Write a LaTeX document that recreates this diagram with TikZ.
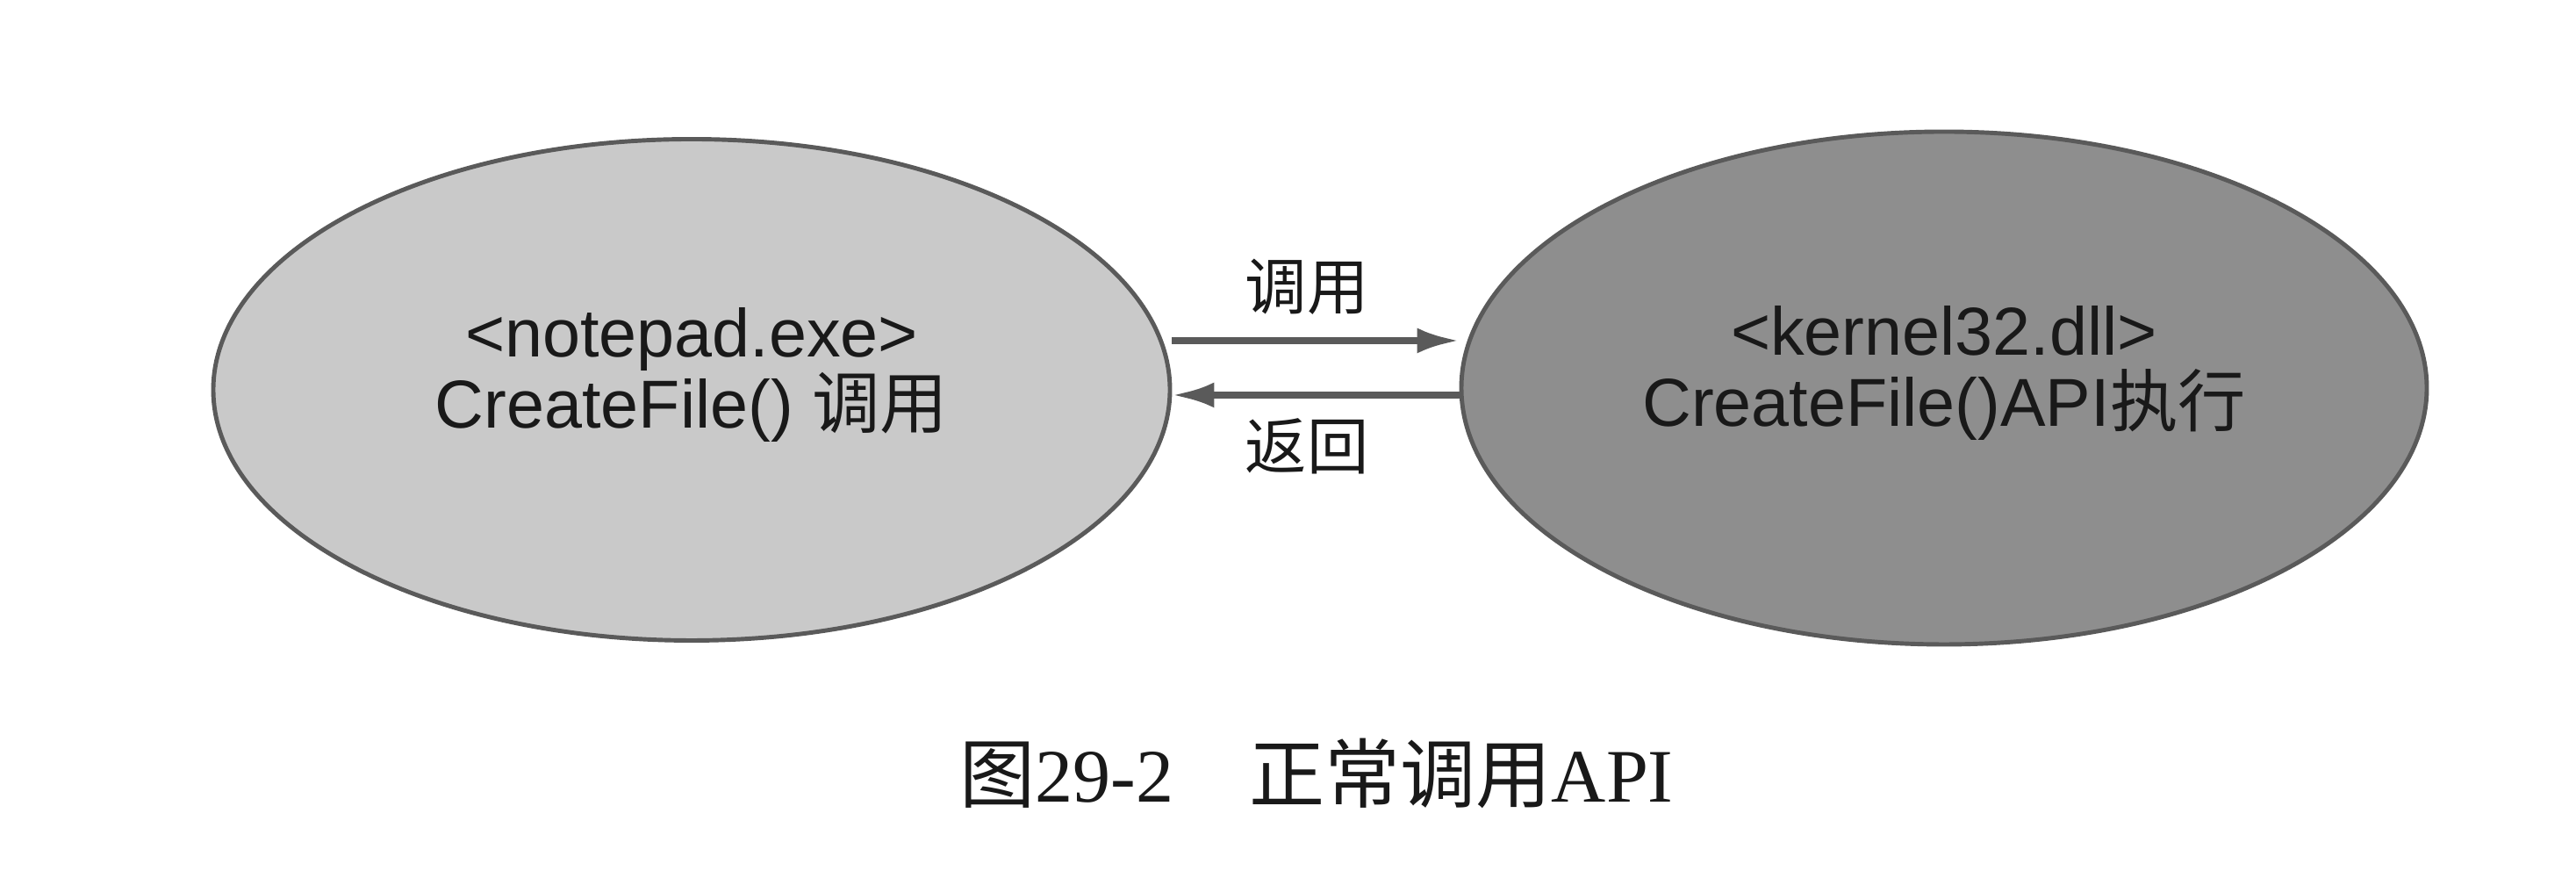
\documentclass[tikz,border=0pt]{standalone}
\usepackage{fontspec}
\setmainfont{Liberation Sans}
\newfontfamily\cjk{Noto Sans CJK SC}
\newfontfamily\capfont{Liberation Serif}
\usetikzlibrary{shapes.geometric,arrows.meta}

\begin{document}
\begin{tikzpicture}
\useasboundingbox[fill=white] (0,0) rectangle (29.35,10);
\definecolor{myLine}{RGB}{90,90,90}
\definecolor{myLight}{RGB}{201,201,201}
\definecolor{myDark}{RGB}{142,142,142}
\definecolor{myText}{RGB}{25,25,25}
\tikzset{
  module/.style={ellipse, draw=myLine, line width=1.4pt, inner sep=0pt, align=center,
    text=myText, text depth=14pt, font=\fontsize{22}{23}\selectfont},
  flow/.style={draw=myLine, line width=2.2pt, -{Latex[length=4.8mm,width=2.9mm]}},
  flowtext/.style={text=myText, font=\cjk\fontsize{20}{24}\selectfont}
}
\node[module, fill=myLight, minimum width=10.9cm, minimum height=5.71cm] (notepad) at (7.88,5.56)
  {<notepad.exe>\\CreateFile() {\cjk 调用}};
\node[module, fill=myDark, minimum width=11cm, minimum height=5.84cm] (kernel) at (22.15,5.58)
  {<kernel32.dll>\\CreateFile()API{\cjk 执行}};
\coordinate (callrow) at (0,6.12);
\coordinate (backrow) at (0,5.50);
\draw[flow] (notepad.east |- callrow) -- (kernel.west |- callrow)
  node[flowtext, midway, above=4pt, xshift=-1mm] (call) {调用};
\draw[flow] (kernel.west |- backrow) -- (notepad.east |- backrow)
  node[flowtext, midway, below=3pt, xshift=-1mm] (back) {返回};
\node[text=myText, font=\fontsize{24.5}{28}\selectfont] (caption) at (15.0,1.19)
  {{\cjk 图}{\capfont 29-2}\hspace{1em}{\cjk 正常调用}{\capfont API}};
\end{tikzpicture}
\end{document}
